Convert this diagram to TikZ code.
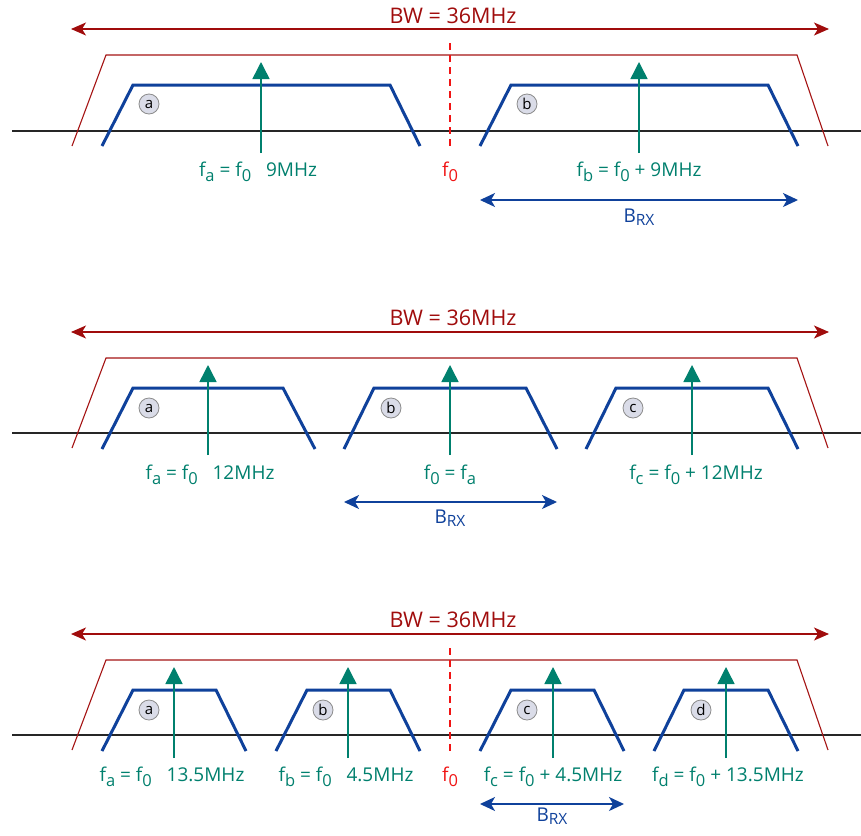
\documentclass[tikz,border=0pt]{standalone}
\usepackage{fontspec}
\setmainfont{Open Sans}
\usetikzlibrary{arrows.meta}
\definecolor{bwred}{RGB}{160,12,12}
\definecolor{trapred}{RGB}{165,20,20}
\definecolor{fzero}{RGB}{240,20,20}
\definecolor{tealc}{RGB}{0,128,110}
\definecolor{bluec}{RGB}{15,65,155}
\definecolor{circfill}{RGB}{218,220,232}
\newcommand\sbs[1]{\raisebox{-5pt}{\fontsize{16.5}{17}\selectfont #1}}
\newcommand\sbr[1]{\raisebox{-3.5pt}{\fontsize{15.5}{16}\selectfont #1}}
\tikzset{
  bwarrow/.style={draw=bwred, line width=1.3pt, {Stealth[length=15pt,width=13pt,inset=4pt]}-{Stealth[length=15pt,width=13pt,inset=4pt]}},
  bwtext/.style={text=bwred, font=\fontsize{21.5}{22}\selectfont, anchor=base, inner sep=0pt},
  envelope/.style={draw=trapred, line width=1.1pt},
  axisline/.style={draw=black!85, line width=1.4pt},
  chan/.style={draw=bluec, line width=3pt, line join=miter},
  carrier/.style={draw=tealc, line width=1.5pt, -{Triangle[length=17pt,width=17pt]}},
  flabel/.style={text=tealc, font=\fontsize{19}{20}\selectfont, anchor=base, inner sep=0pt},
  fzlabel/.style={text=fzero, font=\fontsize{19}{20}\selectfont, anchor=base, inner sep=0pt},
  fzline/.style={draw=fzero, line width=1.3pt, dash pattern=on 7pt off 5pt},
  rxarrow/.style={draw=bluec, line width=1.4pt, {Stealth[length=15pt,width=14pt,inset=4pt]}-{Stealth[length=15pt,width=14pt,inset=4pt]}},
  rxtext/.style={text=bluec, font=\fontsize{19}{20}\selectfont, anchor=base, inner sep=0pt},
  chip/.style={circle, draw=black!45, fill=circfill, line width=0.8pt, minimum size=20pt, inner sep=0pt, font=\fontsize{15}{15}\selectfont}
}
\begin{document}
\begin{tikzpicture}[x=1pt,y=-1pt]
\useasboundingbox (0,0) rectangle (861,835);
\fill[white] (0,0) rectangle (861,835);

% ===================== Panel 1 =====================
\coordinate (bw1l) at (71,29);
\coordinate (bw1r) at (829,29);
\draw[bwarrow] (bw1l) -- (bw1r);
\node[bwtext] (bw1t) at (453,23) {BW = 36MHz};
\draw[axisline] (12,131) -- (861,131);
\draw[envelope] (72,146) -- (106,55) -- (797,55) -- (828,146);
\coordinate (f01top) at (450,43);
\coordinate (f01bot) at (450,147);
\draw[fzline] (f01top) -- (f01bot);
\node[fzlabel] (f01) at (450,176) {f\sbs{0}};
\draw[chan] (102,146) -- (133,85) -- (390,85) -- (420,146);
\draw[chan] (480,146) -- (511,85) -- (768,85) -- (798,146);
\coordinate (c1a0) at (261,153); \coordinate (c1a1) at (261,62);
\coordinate (c1b0) at (639,153); \coordinate (c1b1) at (639,62);
\draw[carrier] (c1a0) -- (c1a1);
\draw[carrier] (c1b0) -- (c1b1);
\node[chip] (p1a) at (149,104) {a};
\node[chip] (p1b) at (527,104) {b};
\node[flabel] (l1a) at (258,176) {f\sbs{a} = f\sbs{0} \ \ 9MHz};
\node[flabel] (l1b) at (639,176) {f\sbs{b} = f\sbs{0} + 9MHz};
\coordinate (rx1l) at (480,200); \coordinate (rx1r) at (798,200);
\draw[rxarrow] (rx1l) -- (rx1r);
\node[rxtext] (rx1t) at (639,222) {B\sbr{RX}};

% ===================== Panel 2 =====================
\coordinate (bw2l) at (71,332);
\coordinate (bw2r) at (829,332);
\draw[bwarrow] (bw2l) -- (bw2r);
\node[bwtext] (bw2t) at (453,325) {BW = 36MHz};
\draw[axisline] (12,433) -- (861,433);
\draw[envelope] (72,448) -- (106,358) -- (797,358) -- (828,448);
\draw[chan] (102,449) -- (133,388) -- (283,388) -- (315,449);
\draw[chan] (344,449) -- (374,388) -- (526,388) -- (557,449);
\draw[chan] (586,449) -- (616,388) -- (768,388) -- (798,449);
\coordinate (c2a0) at (208,455); \coordinate (c2a1) at (208,365);
\coordinate (c2b0) at (450,455); \coordinate (c2b1) at (450,365);
\coordinate (c2c0) at (692,455); \coordinate (c2c1) at (692,365);
\draw[carrier] (c2a0) -- (c2a1);
\draw[carrier] (c2b0) -- (c2b1);
\draw[carrier] (c2c0) -- (c2c1);
\node[chip] (p2a) at (149,408) {a};
\node[chip] (p2b) at (391,408) {b};
\node[chip] (p2c) at (633,408) {c};
\node[flabel] (l2a) at (210,479) {f\sbs{a} = f\sbs{0} \ \ 12MHz};
\node[flabel] (l2b) at (450,479) {f\sbs{0} = f\sbs{a}};
\node[flabel] (l2c) at (696,479) {f\sbs{c} = f\sbs{0} + 12MHz};
\coordinate (rx2l) at (344,502); \coordinate (rx2r) at (557,502);
\draw[rxarrow] (rx2l) -- (rx2r);
\node[rxtext] (rx2t) at (450,523) {B\sbr{RX}};

% ===================== Panel 3 =====================
\coordinate (bw3l) at (71,634);
\coordinate (bw3r) at (829,634);
\draw[bwarrow] (bw3l) -- (bw3r);
\node[bwtext] (bw3t) at (453,627) {BW = 36MHz};
\draw[axisline] (12,735) -- (861,735);
\draw[envelope] (72,750) -- (106,660) -- (797,660) -- (828,750);
\coordinate (f03top) at (450,648);
\coordinate (f03bot) at (450,751);
\draw[fzline] (f03top) -- (f03bot);
\node[fzlabel] (f03) at (450,781) {f\sbs{0}};
\draw[chan] (102,751) -- (133,690) -- (216,690) -- (246,751);
\draw[chan] (276,751) -- (307,690) -- (390,690) -- (420,751);
\draw[chan] (480,751) -- (511,690) -- (594,690) -- (624,751);
\draw[chan] (654,751) -- (684,690) -- (768,690) -- (798,751);
\coordinate (c3a0) at (174,758); \coordinate (c3a1) at (174,667);
\coordinate (c3b0) at (348,758); \coordinate (c3b1) at (348,667);
\coordinate (c3c0) at (553,758); \coordinate (c3c1) at (553,667);
\coordinate (c3d0) at (726,758); \coordinate (c3d1) at (726,667);
\draw[carrier] (c3a0) -- (c3a1);
\draw[carrier] (c3b0) -- (c3b1);
\draw[carrier] (c3c0) -- (c3c1);
\draw[carrier] (c3d0) -- (c3d1);
\node[chip] (p3a) at (149,710) {a};
\node[chip] (p3b) at (323,710) {b};
\node[chip] (p3c) at (527,710) {c};
\node[chip] (p3d) at (701,710) {d};
\node[flabel] (l3a) at (172,781) {f\sbs{a} = f\sbs{0} \ \ 13.5MHz};
\node[flabel] (l3b) at (346,781) {f\sbs{b} = f\sbs{0} \ \ 4.5MHz};
\node[flabel] (l3c) at (553,781) {f\sbs{c} = f\sbs{0} + 4.5MHz};
\node[flabel] (l3d) at (728,781) {f\sbs{d} = f\sbs{0} + 13.5MHz};
\coordinate (rx3l) at (480,804); \coordinate (rx3r) at (624,804);
\draw[rxarrow] (rx3l) -- (rx3r);
\node[rxtext] (rx3t) at (552,821) {B\sbr{RX}};
\end{tikzpicture}
\end{document}
